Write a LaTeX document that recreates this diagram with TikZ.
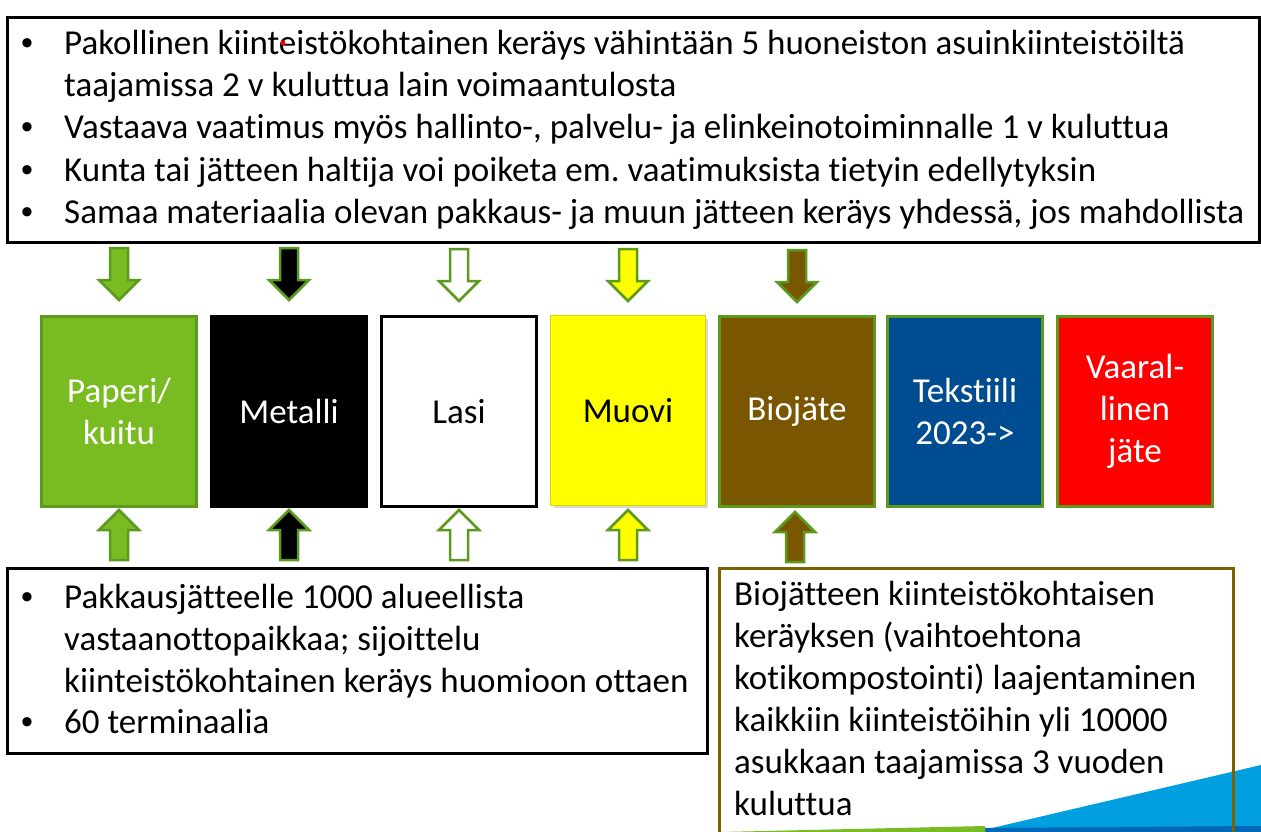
\documentclass[tikz,border=0pt]{standalone}
\usepackage{fontspec}
\setmainfont{Carlito}[Ligatures=NoCommon]
\newfontfamily\arialf{Liberation Sans}
\usetikzlibrary{calc}
\frenchspacing
\definecolor{grn}{HTML}{78BC22}
\definecolor{grnb}{HTML}{5B9A1E}
\definecolor{brn}{HTML}{7A5600}
\definecolor{brnb}{HTML}{7F6000}
\definecolor{blu}{HTML}{004C91}
\definecolor{sky}{HTML}{00A0E0}
\definecolor{deepblu}{HTML}{0066B8}
\definecolor{ylwb}{HTML}{D8D800}
\definecolor{ylw}{HTML}{FFFF00}
\tikzset{
  panel/.style={line width=3pt, anchor=north west, inner sep=0pt},
  catbox/.style={minimum width=155pt, minimum height=190pt, line width=3pt,
    anchor=north west, align=center, inner sep=0pt,
    font=\fontsize{35}{42}\selectfont},
  arrowline/.style={draw=grnb, line width=2.5pt, line join=miter},
  body/.style={anchor=base west, inner sep=0pt, font=\fontsize{35}{42}\selectfont},
  bullet/.style={anchor=base west, inner sep=0pt, font=\arialf\fontsize{34}{42}\selectfont}
}
\newcommand\blkarr[4]{% fill, tip point, direction (1 down, -1 up), length
  \draw[arrowline, fill=#1, shift={#2}, yscale=#3]
    (-9,-#4) -- (-9,-20) -- (-20,-20) -- (0,0) -- (20,-20) -- (9,-20) -- (9,-#4) -- cycle;}
\begin{document}
\begin{tikzpicture}[x=1pt,y=-1pt]
\useasboundingbox (0,0) rectangle (1261,832);
\fill[white] (0,0) rectangle (1261,832);
% corner swoosh
\fill[sky] (975,832) -- (1261,765) -- (1261,832) -- cycle;
\fill[deepblu] (975,828) -- (1261,826) -- (1261,832) -- (975,832) -- cycle;
\fill[grn] (720,832) -- (985,826) -- (985,832) -- cycle;

% top panel
\node[panel, draw=black, minimum width=1252pt, minimum height=225pt] (top) at (6,16) {};
\foreach \yy in {55,139,181,223} \node[bullet] at (21,\yy) {•};
\node[body] (t1) at (64,55) {Pakollinen kiinteistökohtainen keräys vähintään 5 huoneiston asuinkiinteistöiltä};
\node[body] (t2) at (64,97) {taajamissa 2 v kuluttua lain voimaantulosta};
\node[body] (t3) at (64,139) {Vastaava vaatimus myös hallinto-, palvelu- ja elinkeinotoiminnalle 1 v kuluttua};
\node[body] (t4) at (64,181) {Kunta tai jätteen haltija voi poiketa em. vaatimuksista tietyin edellytyksin};
\node[body] (t5) at (64,223) {Samaa materiaalia olevan pakkaus- ja muun jätteen keräys yhdessä, jos mahdollista};
\fill[red] (283,43) circle (2.5);

% category boxes
\node[catbox, draw=grnb, fill=grn, text=white] (b1) at (40,315) {Paperi/\\kuitu};
\node[catbox, draw=black, fill=black, text=white] (b2) at (210,315) {Metalli};
\node[catbox, draw=black, fill=white, text=black] (b3) at (380,315) {Lasi};
\fill[black!15] (554,319) rectangle (708,508);
\node[catbox, draw=ylwb, line width=1pt, fill=ylw, text=black] (b4) at (550,315) {Muovi};
\node[catbox, draw=grnb, fill=brn, text=white] (b5) at (718,315) {Biojäte};
\node[catbox, draw=grnb, fill=blu, text=white] (b6) at (886,315) {Tekstiili\\2023->};
\node[catbox, draw=grnb, fill=red, text=white] (b7) at (1056,315) {Vaaral-\\linen\\jäte};

% arrows from the top panel
\blkarr{grn}{($(b1.north)+(0,-15)$)}{1}{52}
\blkarr{black}{($(b2.north)+(0,-15)$)}{1}{52}
\blkarr{white}{($(b3.north)+(0,-14)$)}{1}{52}
\blkarr{ylw}{($(b4.north)+(0,-14)$)}{1}{52}
\blkarr{brn}{($(b5.north)+(0,-13)$)}{1}{52}
% arrows from the bottom panels
\blkarr{grn}{($(b1.south)+(0,2)$)}{-1}{50}
\blkarr{black}{($(b2.south)+(0,2)$)}{-1}{50}
\blkarr{white}{($(b3.south)+(0,2)$)}{-1}{50}
\blkarr{ylw}{($(b4.south)+(0,4)$)}{-1}{50}
\blkarr{brn}{($(b5.south)+(-2,4)$)}{-1}{50}

% bottom left panel
\node[panel, draw=black, minimum width=700pt, minimum height=185pt] (bl) at (6,567) {};
\foreach \yy in {608,733} \node[bullet] at (21,\yy) {•};
\node[body] at (64,608) {Pakkausjätteelle 1000 alueellista};
\node[body] at (64,650) {vastaanottopaikkaa; sijoittelu};
\node[body] at (64,692) {kiinteistökohtainen keräys huomioon ottaen};
\node[body] at (64,733) {60 terminaalia};

% bottom right panel
\node[panel, draw=brnb, minimum width=514pt, minimum height=290pt] (br) at (718,567) {};
\node[body] at (734,605) {Biojätteen kiinteistökohtaisen};
\node[body] at (734,647) {keräyksen (vaihtoehtona};
\node[body] at (734,689) {kotikompostointi) laajentaminen};
\node[body] at (734,731) {kaikkiin kiinteistöihin yli 10000};
\node[body] at (734,773) {asukkaan taajamissa 3 vuoden};
\node[body] at (734,815) {kuluttua};
\end{tikzpicture}
\end{document}
